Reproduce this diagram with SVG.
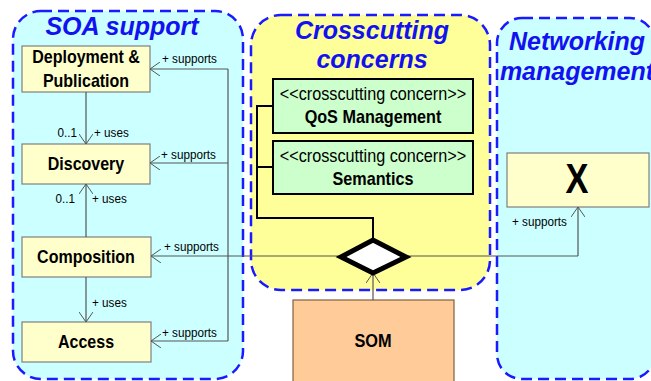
<svg xmlns="http://www.w3.org/2000/svg" width="651" height="381" viewBox="0 0 651 381">
<defs>
<style>
.cont{stroke:#1a1aff;stroke-width:2.5;stroke-dasharray:11 6}
.title{font-family:"Liberation Sans",Arial,sans-serif;font-weight:bold;font-style:italic;font-size:25px;fill:#1212f0;text-anchor:middle}
.node{fill:#ffffcc;stroke:#7f7f7f;stroke-width:1.2}
.cc{fill:#ccffcc;stroke:#000;stroke-width:2}
.nt{font-family:"Liberation Sans",Arial,sans-serif;font-weight:bold;font-size:18px;fill:#000;text-anchor:middle}
.st{font-family:"Liberation Sans",Arial,sans-serif;font-size:18px;fill:#000;text-anchor:middle}
.lbl{font-family:"Liberation Sans",Arial,sans-serif;font-size:13px;fill:#000}
.ln{fill:none;stroke:#555;stroke-width:1.2}
.blk{fill:none;stroke:#000;stroke-width:2}
</style>
<marker id="arr" viewBox="0 0 10 14" refX="10" refY="7" markerWidth="10" markerHeight="14" markerUnits="userSpaceOnUse" orient="auto">
<path d="M0,0 L10,7 L0,14" fill="none" stroke="#555" stroke-width="1"/>
</marker>
</defs>
<rect width="651" height="381" fill="#fff"/>
<g id="soa-support">
<rect class="cont" x="13" y="11" width="230" height="368" rx="28" fill="#ccffff"/>
<text class="title" x="122" y="35">SOA support</text>
</g>
<g id="crosscutting-concerns">
<rect class="cont" x="251" y="15" width="239" height="275" rx="30" fill="#ffff99"/>
<text class="title" x="372" y="39">Crosscutting</text>
<text class="title" x="372" y="68">concerns</text>
</g>
<g id="networking-management">
<rect class="cont" x="497" y="18" width="158" height="361" rx="25" fill="#ccffff"/>
<text class="title" x="577" y="50">Networking</text>
<text class="title" x="577" y="80">management</text>
</g>
<g id="deployment">
<rect class="node" x="22" y="46" width="128" height="46"/>
<text class="nt" transform="translate(86,63) scale(0.89,1)">Deployment &amp;</text>
<text class="nt" transform="translate(86,87) scale(0.89,1)">Publication</text>
</g>
<g id="discovery">
<rect class="node" x="22" y="144" width="128" height="40"/>
<text class="nt" transform="translate(86,170) scale(0.89,1)">Discovery</text>
</g>
<g id="composition">
<rect class="node" x="22" y="237" width="129" height="40"/>
<text class="nt" transform="translate(86,263) scale(0.89,1)">Composition</text>
</g>
<g id="access">
<rect class="node" x="22" y="322" width="129" height="40"/>
<text class="nt" transform="translate(86,348) scale(0.89,1)">Access</text>
</g>
<g id="qos">
<rect class="cc" x="273" y="79" width="200" height="54"/>
<text class="st" transform="translate(373,100) scale(0.9,1)">&lt;&lt;crosscutting concern&gt;&gt;</text>
<text class="nt" transform="translate(373,123) scale(0.9,1)">QoS Management</text>
</g>
<g id="semantics">
<rect class="cc" x="273" y="141" width="200" height="53"/>
<text class="st" transform="translate(373,162) scale(0.9,1)">&lt;&lt;crosscutting concern&gt;&gt;</text>
<text class="nt" transform="translate(373,185) scale(0.9,1)">Semantics</text>
</g>
<g id="x">
<rect class="node" x="507" y="153" width="142" height="54"/>
<text class="nt" transform="translate(577,193) scale(0.8,1)" style="font-size:43px">X</text>
</g>
<g id="som">
<rect x="293" y="300" width="161" height="84" fill="#ffcc99" stroke="#7f6040" stroke-width="1.2"/>
<text class="nt" transform="translate(373,347) scale(0.86,1)" style="font-size:19px">SOM</text>
</g>
<g id="connectors">
<path class="ln" d="M86,92 V144" marker-end="url(#arr)"/>
<path class="ln" d="M86,237 V184" marker-end="url(#arr)"/>
<path class="ln" d="M86,277 V322" marker-end="url(#arr)"/>
<path class="ln" d="M228,69 V341"/>
<path class="ln" d="M228,69 H150" marker-end="url(#arr)"/>
<path class="ln" d="M228,163 H150" marker-end="url(#arr)"/>
<path class="ln" d="M228,341 H151" marker-end="url(#arr)"/>
<path class="ln" d="M578,256 H151" marker-end="url(#arr)"/>
<path class="ln" d="M578,256 V207" marker-end="url(#arr)"/>
<path class="ln" d="M373,300 V273" stroke="#888" marker-end="url(#arr)"/>
<path class="blk" d="M273,106 H257 V218 H373 V240"/>
<path class="blk" d="M257,167 H273"/>
<polygon points="341,257 373,240 406,257 373,273" fill="#fff" stroke="#000" stroke-width="5" stroke-linejoin="miter"/>
<text class="lbl" transform="translate(162,63) scale(0.9,1)">+ supports</text>
<text class="lbl" transform="translate(161,159) scale(0.9,1)">+ supports</text>
<text class="lbl" transform="translate(164,251) scale(0.9,1)">+ supports</text>
<text class="lbl" transform="translate(162,337) scale(0.9,1)">+ supports</text>
<text class="lbl" transform="translate(512,226) scale(0.9,1)">+ supports</text>
<text class="lbl" transform="translate(77,137) scale(0.9,1)" text-anchor="end">0..1</text>
<text class="lbl" transform="translate(94,137) scale(0.9,1)">+ uses</text>
<text class="lbl" transform="translate(75,203) scale(0.9,1)" text-anchor="end">0..1</text>
<text class="lbl" transform="translate(92,203) scale(0.9,1)">+ uses</text>
<text class="lbl" transform="translate(92,307) scale(0.9,1)">+ uses</text>
</g>
</svg>
